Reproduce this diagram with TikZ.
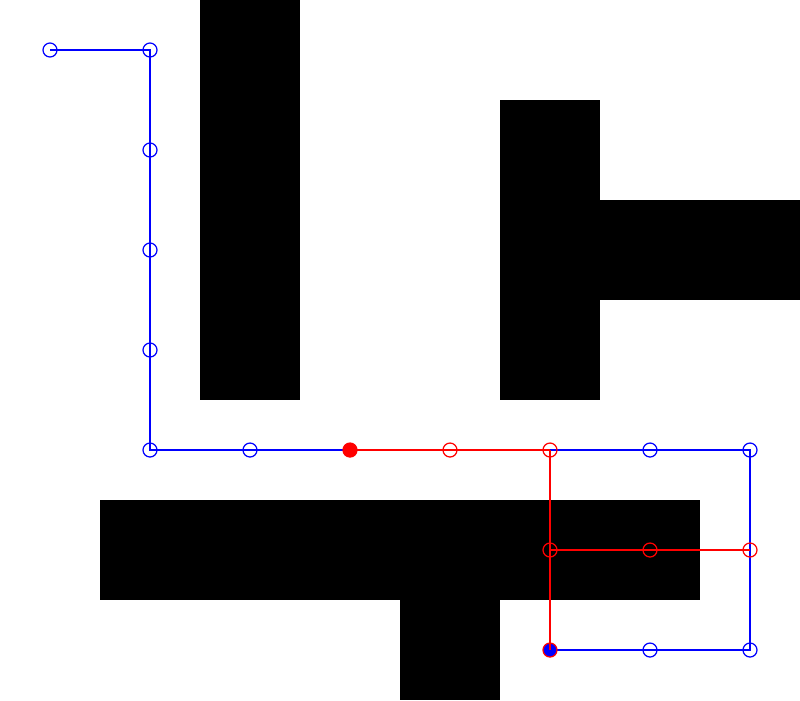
\documentclass[tikz,border=0pt]{standalone}
\begin{document}
\begin{tikzpicture}[x=1cm,y=-1cm,
  wall/.style={fill=black,draw=none},
  bl/.style={draw=blue,line width=0.35pt},
  rd/.style={draw=red,line width=0.35pt},
  pt/.style={circle,inner sep=0pt,minimum size=0.14cm,line width=0.35pt},
  bpt/.style={pt,draw=blue},
  rpt/.style={pt,draw=red},
  rfill/.style={pt,draw=red,fill=red},
  bfill/.style={pt,draw=red,fill=blue}]
\useasboundingbox (0,0) rectangle (8,7);
\fill[white] (0,0) rectangle (8,7);
% walls
\fill[wall] (2,0) rectangle (3,4);
\fill[wall] (5,1) rectangle (6,4);
\fill[wall] (6,2) rectangle (8,3);
\fill[wall] (1,5) rectangle (7,6);
\fill[wall] (4,6) rectangle (5,7);
% coordinates
\foreach \n/\x/\y in {a/0.5/0.5,b/1.5/0.5,c/1.5/1.5,d/1.5/2.5,e/1.5/3.5,f/1.5/4.5,g/2.5/4.5,h/3.5/4.5,i/4.5/4.5,j/5.5/4.5,k/6.5/4.5,l/7.5/4.5,m/5.5/5.5,n/6.5/5.5,o/7.5/5.5,p/5.5/6.5,q/6.5/6.5,r/7.5/6.5}
  \coordinate (\n) at (\x,\y);
% blue path
\draw[bl] (a) -- (b) -- (c) -- (d) -- (e) -- (f) -- (g) -- (h);
\draw[bl] (j) -- (k) -- (l) -- (o) -- (r) -- (q) -- (p);
% red path
\draw[rd] (h) -- (i) -- (j);
\draw[rd] (j) -- (m) -- (p);
\draw[rd] (m) -- (n) -- (o);
% markers
\foreach \n in {a,b,c,d,e,f,g,k,l,r,q}
  \node[bpt] (N\n) at (\n) {};
\foreach \n in {i,j,m,n,o}
  \node[rpt] (N\n) at (\n) {};
\node[rfill] (Nh) at (h) {};
\node[bfill] (Np) at (p) {};
\draw[rd] (Nm.center) -- (Np.center);
\end{tikzpicture}
\end{document}
